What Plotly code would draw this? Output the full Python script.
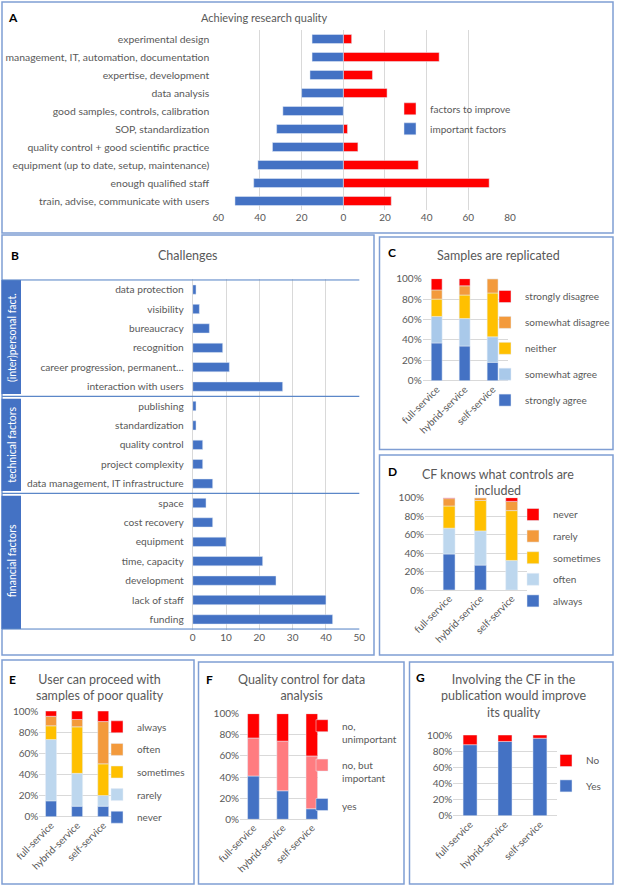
import plotly.graph_objects as go

W, H = 617, 886
FONT = "Lato, 'Open Sans', sans-serif"
GREY = "#595959"
GRID = "#D9D9D9"
BLUE = "#4472C4"
RED = "#FF0000"
ORANGE = "#F39A3C"
YELLOW = "#FFC000"
LBLUE = "#A9C9EA"
LBLUE2 = "#BDD7EE"
PINK = "#FF7C80"
BORDER = "#7F9ED4"
SEP = "#5B87C8"

# ---------------- data ----------------
a_categories = [
    "experimental design",
    "management, IT, automation, documentation",
    "expertise, development",
    "data analysis",
    "good samples, controls, calibration",
    "SOP, standardization",
    "quality control + good scientific practice",
    "equipment (up to date, setup, maintenance)",
    "enough qualified staff",
    "train, advise, communicate with users",
]
a_important = [15, 15, 16, 20, 29, 32, 34, 41, 43, 52]
a_improve = [4, 46, 14, 21, 0, 2, 7, 36, 70, 23]
a_ticks = [-60, -40, -20, 0, 20, 40, 60, 80]

b_categories = [
    "data protection", "visibility", "bureaucracy", "recognition",
    "career progression, permanent…", "interaction with users",
    "publishing", "standardization", "quality control", "project complexity",
    "data management, IT infrastructure",
    "space", "cost recovery", "equipment", "time, capacity", "development",
    "lack of staff", "funding",
]
b_values = [1, 2, 5, 9, 11, 27, 1, 1, 3, 3, 6, 4, 6, 10, 21, 25, 40, 42]
b_groups = ["(inter)personal fact.", "technical factors", "financial factors"]
b_group_sizes = [6, 5, 7]

services = ["full-service", "hybrid-service", "self-service"]

c_names = ["strongly agree", "somewhat agree", "neither", "somewhat disagree", "strongly disagree"]
c_strongly_agree = [37, 34, 18]
c_somewhat_agree = [26, 27, 25]
c_neither = [17, 23, 43]
c_somewhat_disagree = [9, 9, 14]
c_strongly_disagree = [11, 7, 0]

d_names = ["always", "often", "sometimes", "rarely", "never"]
d_always = [39, 27, 0]
d_often = [28, 37, 32]
d_sometimes = [24, 33, 54]
d_rarely = [8, 3, 10]
d_never = [1, 0, 4]

e_names = ["never", "rarely", "sometimes", "often", "always"]
e_never = [15, 10, 10]
e_rarely = [58, 31, 10]
e_sometimes = [13, 44, 30]
e_often = [9, 7, 40]
e_always = [5, 8, 10]

f_names = ["yes", "no, but<br>important", "no,<br>unimportant"]
f_yes = [41, 27, 10]
f_no_important = [36, 47, 50]
f_no_unimportant = [23, 26, 40]

g_names = ["Yes", "No"]
g_yes = [88, 92, 96]
g_no = [12, 8, 4]


def hx(x):
    return x / W


def hy(y):
    return 1 - y / H


fig = go.Figure()

# ---------------- panel A ----------------
fig.add_trace(go.Bar(y=a_categories, x=a_improve, orientation="h", name="factors to improve",
                     marker_color=RED, width=0.5, xaxis="x", yaxis="y",
                     legend="legend", legendgroup="a_improve", legendrank=1))
fig.add_trace(go.Bar(y=a_categories, x=[-v for v in a_important], orientation="h",
                     name="important factors", marker_color=BLUE, width=0.5,
                     xaxis="x", yaxis="y", legend="legend", legendgroup="a_important",
                     legendrank=2))

# ---------------- panel B ----------------
fig.add_trace(go.Bar(y=b_categories, x=b_values, orientation="h", marker_color=BLUE,
                     width=0.48, xaxis="x2", yaxis="y2", showlegend=False))


def stacked(series, names, colors, idx, legend_name, width):
    for i, (vals, nm, col) in enumerate(zip(series, names, colors)):
        fig.add_trace(go.Bar(x=services, y=vals, name=nm, marker_color=col, width=width,
                             xaxis=f"x{idx}", yaxis=f"y{idx}", legend=legend_name,
                             legendgroup=f"{legend_name}_{i}", legendrank=100 - i))


stacked([c_strongly_agree, c_somewhat_agree, c_neither, c_somewhat_disagree, c_strongly_disagree],
        c_names, [BLUE, LBLUE, YELLOW, ORANGE, RED], 3, "legend2", 0.39)
stacked([d_always, d_often, d_sometimes, d_rarely, d_never],
        d_names, [BLUE, LBLUE2, YELLOW, ORANGE, RED], 4, "legend3", 0.38)
stacked([e_never, e_rarely, e_sometimes, e_often, e_always],
        e_names, [BLUE, LBLUE2, YELLOW, ORANGE, RED], 5, "legend4", 0.42)
stacked([f_yes, f_no_important, f_no_unimportant],
        f_names, [BLUE, PINK, RED], 6, "legend5", 0.4)
stacked([g_yes, g_no], g_names, [BLUE, RED], 7, "legend6", 0.4)

tickfont = dict(family=FONT, size=10, color=GREY)
catfont = dict(family=FONT, size=10.4, color=GREY)

layout = dict(
    width=W, height=H, autosize=False,
    margin=dict(l=0, r=0, t=0, b=0, autoexpand=False),
    paper_bgcolor="white", plot_bgcolor="white",
    barmode="relative",
    font=dict(family=FONT, color=GREY, size=10),
    xaxis=dict(domain=[hx(218.3), hx(510)], range=[-60, 80], tickvals=a_ticks,
               ticktext=[str(abs(v)) for v in a_ticks], gridcolor=GRID, zeroline=True,
               zerolinecolor=GRID, zerolinewidth=1, showline=False, ticks="",
               tickfont=tickfont, anchor="y", fixedrange=True, automargin=False),
    yaxis=dict(domain=[hy(210), hy(30)], type="category", autorange="reversed",
               showgrid=False, ticks="", ticklabelstandoff=8, tickfont=catfont,
               anchor="x", fixedrange=True, automargin=False),
    xaxis2=dict(domain=[hx(192.7), hx(359.3)], range=[0, 50], dtick=10, gridcolor=GRID,
                zeroline=True, zerolinecolor=GRID, zerolinewidth=1, ticks="",
                tickfont=tickfont, anchor="y2", fixedrange=True, automargin=False),
    yaxis2=dict(domain=[hy(629.7), hy(279.3)], type="category", autorange="reversed",
                showgrid=False, ticks="", ticklabelstandoff=8,
                tickfont=dict(family=FONT, size=10.2, color=GREY),
                anchor="x2", fixedrange=True, automargin=False),
)

stack_axes = {
    3: ([422.7, 507.7], [278.7, 380.7], [-0.5, 2.54]),
    4: ([425, 526.7], [497.7, 590], [-0.77, 2.48]),
    5: ([39.3, 116], [711, 816.7], [-0.45, 2.49]),
    6: ([240, 317.7], [713.7, 819.3], [-0.46, 2.2]),
    7: ([453.3, 556.7], [735, 815.7], [-0.48, 2.48]),
}
for idx, (xdom, ydom, xr) in stack_axes.items():
    layout[f"xaxis{idx}"] = dict(domain=[hx(xdom[0]), hx(xdom[1])], type="category",
                                 range=xr, tickangle=-45, showgrid=False, ticks="",
                                 tickfont=tickfont, anchor=f"y{idx}", fixedrange=True,
                                 automargin=False)
    layout[f"yaxis{idx}"] = dict(domain=[hy(ydom[1]), hy(ydom[0])], range=[0, 100],
                                 dtick=20, ticksuffix="%", gridcolor=GRID, zeroline=True,
                                 zerolinecolor=GRID, zerolinewidth=1, ticks="",
                                 tickfont=tickfont, anchor=f"x{idx}", fixedrange=True,
                                 automargin=False)


def legend_cfg(text_x, first_center, gap, valign="middle"):
    return dict(x=hx(text_x - 40), y=hy(first_center - 15), xanchor="left", yanchor="top",
                bgcolor="rgba(0,0,0,0)", font=dict(family=FONT, size=10, color=GREY),
                tracegroupgap=gap, traceorder="grouped", valign=valign, itemclick=False,
                itemdoubleclick=False)


layout["legend"] = legend_cfg(430, 109.3, 1)
layout["legend2"] = legend_cfg(525, 297, 6.9)
layout["legend3"] = legend_cfg(553, 515, 2.6)
layout["legend4"] = legend_cfg(137, 727.3, 3.6)
layout["legend5"] = legend_cfg(342, 727.7, 10.4, valign="top")
layout["legend6"] = legend_cfg(586, 761, 6.4)

fig.update_layout(**layout)

# ---------------- decorations ----------------
shapes = []
for (x0, y0, x1, y1) in [(2, 2, 613, 233), (2, 235, 374, 655), (379.5, 237, 613, 449.5),
                         (379.5, 455, 613, 655), (2, 660, 194, 884), (198.5, 662, 404, 884),
                         (409.5, 662, 613, 884)]:
    shapes.append(dict(type="rect", xref="paper", yref="paper", x0=hx(x0), x1=hx(x1),
                       y0=hy(y0), y1=hy(y1), line=dict(color=BORDER, width=1.5),
                       fillcolor="rgba(0,0,0,0)", layer="above"))

annotations = []
start = 0
bounds = [-0.5]
for n in b_group_sizes:
    start += n
    bounds.append(start - 0.5)
for gi, name in enumerate(b_groups):
    top, bot = bounds[gi], bounds[gi + 1]
    inset_top = 0.0 if gi == 0 else 0.12
    inset_bot = 0.0 if gi == len(b_groups) - 1 else 0.12
    shapes.append(dict(type="rect", xref="paper", yref="y2", x0=hx(1.5), x1=hx(21),
                       y0=top + inset_top, y1=bot - inset_bot, fillcolor=BLUE,
                       line=dict(width=0), layer="above"))
    annotations.append(dict(xref="paper", yref="y2", x=hx(12), y=(top + bot) / 2,
                            text=name, textangle=-90, showarrow=False,
                            xanchor="center", yanchor="middle",
                            font=dict(family=FONT, size=10.5, color="white")))
for b in bounds:
    shapes.append(dict(type="line", xref="paper", yref="y2", x0=hx(2), x1=hx(359.3),
                       y0=b, y1=b, line=dict(color=SEP, width=1.2), layer="above"))

titles = [
    ("Achieving research quality", 264, 17, 11),
    ("Challenges", 187, 256, 12.5),
    ("Samples are replicated", 498, 256, 12.5),
    ("CF knows what controls are<br>included", 498, 482, 12.5),
    ("User can proceed with<br>samples of poor quality", 99.5, 687.3, 12.5),
    ("Quality control for data<br>analysis", 301.7, 687.7, 12.5),
    ("Involving the CF in the<br>publication would improve<br>its quality", 513.3, 696, 12.5),
]
for text, x, y, s in titles:
    annotations.append(dict(xref="paper", yref="paper", x=hx(x), y=hy(y), text=text,
                            showarrow=False, xanchor="center", yanchor="middle",
                            font=dict(family=FONT, size=s, color=GREY)))

letters = [("A", 13, 17), ("B", 15, 256), ("C", 392, 252), ("D", 392, 472),
           ("E", 12, 679), ("F", 209, 679), ("G", 420, 677)]
for t, x, y in letters:
    annotations.append(dict(xref="paper", yref="paper", x=hx(x), y=hy(y), text=f"<b>{t}</b>",
                            showarrow=False, xanchor="center", yanchor="middle",
                            font=dict(family=FONT, size=12, color="black")))

fig.update_layout(shapes=shapes, annotations=annotations)
fig.write_html("out.html", config={"displayModeBar": False},
               post_script="document.body.style.margin='0';document.body.style.overflow='hidden';")
